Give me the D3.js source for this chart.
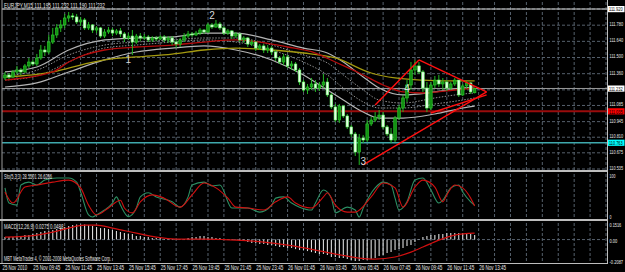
<!DOCTYPE html>
<html>
<head>
<meta charset="utf-8">
<script src="https://cdn.jsdelivr.net/npm/d3@7"></script>
<style>
html, body { margin: 0; padding: 0; background: #000; }
svg { display: block; }
text { font-family: "Liberation Sans", Arial, sans-serif; }
</style>
</head>
<body>
<div id="chart"></div>
<script>
const chartWidth = 625;
const chartHeight = 272;
const plotLeft = 2;
const plotRight = 607;

const symbolTitle = "EURJPY,M15  111.195 111.232 111.190 111.232";
const stochTitle = "Sto(5,3,3) 28.5501 26.6266";
const macdTitle = "MACD(12,26,9) 0.0275 0.0488";
const footerText = "MBT MetaTrader 4, \u00a9 2001-2008 MetaQuotes Software Corp.";

const openPrices = [
  111.323,111.349,111.331,111.375,111.392,111.375,111.427,111.461,111.444,111.496,
  111.565,111.548,111.634,111.695,111.756,111.782,111.842,111.860,111.851,111.808,
  111.825,111.756,111.782,111.738,111.756,111.686,111.721,111.738,111.712,111.730,
  111.704,111.669,111.686,111.634,111.686,111.669,111.678,111.652,111.669,111.660,
  111.678,111.652,111.669,111.634,111.617,111.652,111.686,111.704,111.695,111.712,
  111.738,111.721,111.782,111.764,111.790,111.756,111.712,111.730,111.686,111.704,
  111.652,111.669,111.617,111.634,111.582,111.600,111.565,111.582,111.548,111.496,
  111.461,111.505,111.427,111.444,111.392,111.288,111.219,111.245,111.271,111.236,
  111.262,111.288,111.176,111.072,110.959,111.080,110.994,110.899,110.838,110.682,
  110.803,110.786,110.925,110.959,110.985,111.002,110.899,110.838,110.786,110.977,
  111.063,111.150,111.262,111.392,111.427,111.375,111.236,111.063,111.262,111.305,
  111.271,111.288,111.236,111.271,111.305,111.176,111.254,111.280,111.195
];
const highPrices = [
  111.375,111.366,111.392,111.427,111.409,111.444,111.496,111.479,111.531,111.608,
  111.600,111.695,111.756,111.790,111.825,111.877,111.894,111.885,111.877,111.851,
  111.842,111.808,111.790,111.773,111.764,111.747,111.764,111.756,111.747,111.756,
  111.721,111.712,111.738,111.704,111.712,111.704,111.695,111.686,111.686,111.695,
  111.695,111.686,111.686,111.652,111.669,111.712,111.730,111.721,111.730,111.756,
  111.747,111.799,111.799,111.825,111.808,111.773,111.747,111.738,111.721,111.712,
  111.686,111.678,111.652,111.643,111.617,111.617,111.608,111.600,111.565,111.513,
  111.531,111.522,111.470,111.461,111.409,111.305,111.271,111.323,111.305,111.288,
  111.357,111.323,111.193,111.098,111.098,111.089,111.011,110.916,110.855,110.838,
  110.829,110.959,110.985,111.028,111.046,111.028,110.916,110.890,110.994,111.089,
  111.176,111.305,111.461,111.479,111.461,111.392,111.288,111.288,111.340,111.349,
  111.323,111.305,111.288,111.323,111.305,111.271,111.297,111.288,111.232
];
const lowPrices = [
  111.305,111.314,111.323,111.357,111.349,111.366,111.409,111.427,111.427,111.479,
  111.513,111.531,111.617,111.669,111.721,111.756,111.808,111.825,111.790,111.773,
  111.738,111.738,111.712,111.712,111.669,111.669,111.704,111.686,111.695,111.678,
  111.634,111.652,111.522,111.617,111.643,111.652,111.634,111.634,111.643,111.652,
  111.634,111.626,111.608,111.582,111.591,111.634,111.669,111.678,111.686,111.695,
  111.704,111.712,111.747,111.756,111.738,111.695,111.695,111.660,111.669,111.634,
  111.626,111.591,111.600,111.556,111.565,111.539,111.539,111.522,111.470,111.444,
  111.435,111.409,111.392,111.375,111.262,111.202,111.184,111.219,111.202,111.210,
  111.236,111.158,111.054,110.942,110.933,110.977,110.881,110.812,110.648,110.570,
  110.760,110.769,110.907,110.942,110.959,110.881,110.821,110.760,110.769,110.959,
  111.028,111.115,111.219,111.349,111.357,111.202,111.028,111.046,111.236,111.245,
  111.219,111.210,111.219,111.254,111.158,111.167,111.228,111.184,111.190
];
const closePrices = [
  111.349,111.331,111.375,111.392,111.375,111.427,111.461,111.444,111.496,111.565,
  111.548,111.634,111.695,111.756,111.782,111.842,111.860,111.851,111.808,111.825,
  111.756,111.782,111.738,111.756,111.686,111.721,111.738,111.712,111.730,111.704,
  111.669,111.686,111.634,111.686,111.669,111.678,111.652,111.669,111.660,111.678,
  111.652,111.669,111.634,111.617,111.652,111.686,111.704,111.695,111.712,111.738,
  111.721,111.782,111.764,111.790,111.756,111.712,111.730,111.686,111.704,111.652,
  111.669,111.617,111.634,111.582,111.600,111.565,111.582,111.548,111.496,111.461,
  111.505,111.427,111.444,111.392,111.288,111.219,111.245,111.271,111.236,111.262,
  111.288,111.176,111.072,110.959,111.080,110.994,110.899,110.838,110.682,110.803,
  110.786,110.925,110.959,110.985,111.002,110.899,110.838,110.786,110.977,111.063,
  111.150,111.262,111.392,111.427,111.375,111.236,111.063,111.262,111.305,111.271,
  111.288,111.236,111.271,111.305,111.176,111.254,111.280,111.202,111.232
];

// band lines share the same sample bars
const bandBars = [0, 8, 16, 25, 33, 42, 50, 58, 67, 75, 81, 85, 90, 94, 100, 108, 115, 118];
const bandUpper = [111.375,111.418,111.565,111.652,111.669,111.678,111.712,111.712,111.652,111.582,111.539,111.461,111.331,111.236,111.176,111.202,111.236,111.245];
const bandMidHigh = [111.340,111.390,111.522,111.608,111.634,111.652,111.669,111.669,111.608,111.522,111.453,111.349,111.219,111.132,111.106,111.150,111.184,111.193];
const bandMidLow = [111.305,111.340,111.461,111.582,111.608,111.634,111.652,111.634,111.565,111.461,111.349,111.236,111.115,111.063,111.063,111.098,111.132,111.150];
const bandLower = [111.245,111.280,111.375,111.479,111.548,111.582,111.600,111.565,111.479,111.349,111.219,111.132,111.028,110.976,110.976,111.011,111.063,111.080];

const redMaBars = [0, 12, 16, 20, 25, 33, 42, 50, 58, 71, 78, 83, 89, 95, 100, 105, 113, 118];
const redMa = [111.305,111.375,111.461,111.522,111.565,111.591,111.608,111.634,111.652,111.591,111.539,111.461,111.366,111.262,111.202,111.193,111.219,111.236];
const yellowMaBars = [0, 12, 16, 25, 33, 42, 50, 58, 67, 75, 83, 92, 98, 105, 113, 118];
const yellowMa = [111.331,111.375,111.409,111.479,111.505,111.530,111.565,111.582,111.565,111.539,111.496,111.366,111.323,111.305,111.297,111.297];

const trendLines = [
  [[93, 111.089], [104, 111.479]],
  [[104, 111.479], [121, 111.202]],
  [[90, 110.570], [121, 111.202]],
  [[107, 111.020], [121, 111.176]]
];
const waveLabels = [
  { text: "1", bar: 31, price: 111.479 },
  { text: "2", bar: 52, price: 111.868 },
  { text: "3", bar: 90, price: 110.596 },
  { text: "4", bar: 101, price: 111.236 }
];
const levelLines = [
  { price: 111.920, label: "111.920", color: "#d8d8d8", box: "#ffffff", width: 1 },
  { price: 111.035, label: "111.035", color: "#9a0c0c", box: "#ff0000", width: 2 },
  { price: 110.763, label: "110.763", color: "#3fa9ad", box: "#00ffff", width: 1.5 }
];
const bidPrice = 111.232;

// 111.920 and 111.220 sit under the level/bid boxes, so they carry no own label
const priceTicks = [111.920, 111.780, 111.640, 111.500, 111.360, 111.220, 111.085, 110.945, 110.810, 110.675, 110.535];
const labelledTicks = [111.780, 111.640, 111.500, 111.360, 111.085, 110.945, 110.810, 110.675, 110.535];

const stochBars = [0,1,3,4,6,8,10,13,16,18,19,21,22,23,25,27,28,29,31,33,34,36,38,42,44,46,47,50,52,54,57,58,61,64,67,68,70,72,74,77,78,80,82,83,86,88,89,90,93,95,97,98,99,101,103,105,107,109,110,112,114,115,117,118];
const stochMain = [71,34,29,78,85,78,90,95,95,85,61,5,0,5,17,34,49,29,1,22,49,59,49,37,24,49,78,85,76,78,22,22,22,12,29,46,49,34,24,17,34,66,46,10,24,17,0,22,71,85,78,46,17,37,90,95,66,34,41,71,78,61,37,28.5];
const signalBars = [0,2,5,8,12,16,19,21,23,26,29,30,32,34,37,40,44,47,50,53,56,58,61,65,68,71,73,77,80,81,83,86,88,92,95,98,100,103,105,108,110,111,113,115,117,118];
const stochSignal = [61,34,73,78,85,90,71,29,5,22,41,22,10,37,54,46,24,54,83,71,46,24,22,17,37,49,34,22,49,59,29,12,12,49,83,71,24,73,90,73,37,54,78,71,46,26.6];

const macdHist = [
  0.024,0.024,0.024,0.034,0.034,0.044,0.044,0.054,0.063,0.073,
  0.083,0.083,0.093,0.102,0.112,0.122,0.131,0.141,0.146,0.146,
  0.146,0.141,0.131,0.122,0.112,0.112,0.102,0.093,0.083,0.073,
  0.063,0.054,0.054,0.034,0.034,0.024,0.024,0.015,0.015,0.015,
  0.005,0.005,-0.005,-0.005,-0.005,0.005,0.015,0.024,0.024,0.034,
  0.034,0.024,0.024,0.015,0.015,0.005,0.005,-0.005,-0.005,-0.015,
  -0.015,-0.024,-0.034,-0.034,-0.044,-0.044,-0.054,-0.054,-0.063,-0.073,
  -0.073,-0.083,-0.083,-0.093,-0.102,-0.102,-0.112,-0.122,-0.131,-0.141,
  -0.141,-0.151,-0.170,-0.170,-0.180,-0.180,-0.190,-0.200,-0.209,-0.209,
  -0.200,-0.200,-0.190,-0.180,-0.161,-0.151,-0.131,-0.122,-0.102,-0.093,
  -0.083,-0.063,-0.054,-0.024,0.005,0.024,0.034,0.044,0.044,0.054,
  0.054,0.063,0.063,0.063,0.063,0.063,0.063,0.054,0.044
];
const macdSignalBars = [0,8,12,16,20,23,27,33,38,43,50,55,58,65,71,78,83,89,93,98,102,105,109,113,118];
const macdSignal = [0.024,0.044,0.073,0.112,0.141,0.141,0.112,0.063,0.024,0.005,0.005,0.0,-0.005,-0.024,-0.054,-0.102,-0.141,-0.180,-0.190,-0.170,-0.122,-0.073,-0.005,0.044,0.063];

const stochTicks = [{ v: 100, label: "100" }, { v: 0, label: "0" }];
const macdTicks = [{ v: 0.1516, label: "0.1516" }, { v: 0, label: "0.00" }, { v: -0.2087, label: "-0.2087" }];

const timeLabels = [
  "25 Nov 2010", "25 Nov 09:45", "25 Nov 11:45", "25 Nov 13:45", "25 Nov 15:45",
  "25 Nov 17:45", "25 Nov 19:45", "25 Nov 21:45", "25 Nov 23:45", "26 Nov 01:45",
  "26 Nov 03:45", "26 Nov 05:45", "26 Nov 07:45", "26 Nov 09:45", "26 Nov 11:45", "26 Nov 13:45"
];
const timeLabelBars = [-0.75, 7, 15, 23, 31, 39, 47, 55, 63, 71, 79, 87, 95, 103, 111, 119];

const xScale = d3.scaleLinear().domain([0, 151]).range([5, 606]);
const yPrice = d3.scaleLinear().domain([110.535, 111.92]).range([169, 9]);
const yStoch = d3.scaleLinear().domain([0, 100]).range([217, 176]);
const yMacd = d3.scaleLinear().domain([-0.2087, 0.1516]).range([261, 224]);

const panes = [
  { top: 0, bottom: 171 },
  { top: 172, bottom: 220 },
  { top: 221, bottom: 263 }
];

const svg = d3
  .select("#chart")
  .append("svg")
  .attr("width", chartWidth)
  .attr("height", chartHeight)
  .style("background", "#000");

// grid
const gridBars = d3.range(3, 152, 4);
panes.forEach(p => {
  svg
    .append("g")
    .selectAll("line")
    .data(gridBars)
    .enter()
    .append("line")
    .attr("x1", d => xScale(d))
    .attr("x2", d => xScale(d))
    .attr("y1", p.top + 2)
    .attr("y2", p.bottom - 1)
    .attr("stroke", "#56616d")
    .attr("stroke-dasharray", "3,2");
});
svg
  .append("g")
  .selectAll("line")
  .data(priceTicks)
  .enter()
  .append("line")
  .attr("x1", plotLeft)
  .attr("x2", plotRight)
  .attr("y1", d => yPrice(d))
  .attr("y2", d => yPrice(d))
  .attr("stroke", "#56616d")
  .attr("stroke-dasharray", "3,2");
svg
  .append("line")
  .attr("x1", plotLeft)
  .attr("x2", plotRight)
  .attr("y1", yMacd(0))
  .attr("y2", yMacd(0))
  .attr("stroke", "#56616d")
  .attr("stroke-dasharray", "3,2");

// level lines
svg
  .append("g")
  .selectAll("line")
  .data(levelLines)
  .enter()
  .append("line")
  .attr("x1", plotLeft)
  .attr("x2", plotRight)
  .attr("y1", d => yPrice(d.price))
  .attr("y2", d => yPrice(d.price))
  .attr("stroke", d => d.color)
  .attr("stroke-width", d => d.width);
svg
  .append("line")
  .attr("x1", plotLeft)
  .attr("x2", plotRight)
  .attr("y1", yPrice(bidPrice))
  .attr("y2", yPrice(bidPrice))
  .attr("stroke", "#9a9a9a");

// moving averages / bands
const priceLine = d3
  .line()
  .x(d => xScale(d[0]))
  .y(d => yPrice(d[1]))
  .curve(d3.curveMonotoneX);
const zipPoints = (bars, vals) => bars.map((b, i) => [b, vals[i]]);

[
  { v: bandMidHigh, color: "#8f8f8f", dash: "1.5,1.5", w: 1 },
  { v: bandMidLow, color: "#8f8f8f", dash: "1.5,1.5", w: 1 },
  { v: bandUpper, color: "#b4b4b4", dash: null, w: 1.2 },
  { v: bandLower, color: "#b4b4b4", dash: null, w: 1.2 }
].forEach(s => {
  svg
    .append("path")
    .attr("d", priceLine(zipPoints(bandBars, s.v)))
    .attr("fill", "none")
    .attr("stroke", s.color)
    .attr("stroke-width", s.w)
    .attr("stroke-dasharray", s.dash);
});
svg
  .append("path")
  .attr("d", priceLine(zipPoints(yellowMaBars, yellowMa)))
  .attr("fill", "none")
  .attr("stroke", "#a49a10")
  .attr("stroke-width", 1.3);
svg
  .append("path")
  .attr("d", priceLine(zipPoints(redMaBars, redMa)))
  .attr("fill", "none")
  .attr("stroke", "#b40c0c")
  .attr("stroke-width", 1.3);

// candles
const candles = openPrices.map((o, i) => ({
  i,
  o,
  h: highPrices[i],
  l: lowPrices[i],
  c: closePrices[i]
}));
const candleG = svg.append("g");
candleG
  .selectAll("line")
  .data(candles)
  .enter()
  .append("line")
  .attr("x1", d => xScale(d.i))
  .attr("x2", d => xScale(d.i))
  .attr("y1", d => yPrice(d.h))
  .attr("y2", d => yPrice(d.l))
  .attr("stroke", "#22b822");
candleG
  .selectAll("rect")
  .data(candles)
  .enter()
  .append("rect")
  .attr("x", d => xScale(d.i) - 1.3)
  .attr("width", 2.6)
  .attr("y", d => yPrice(Math.max(d.o, d.c)))
  .attr("height", d => Math.max(1, Math.abs(yPrice(d.o) - yPrice(d.c))))
  .attr("fill", d => (d.c >= d.o ? "#129212" : "#e4ffe4"))
  .attr("stroke", d => (d.c >= d.o ? "#2fd02f" : "#6cff6c"))
  .attr("stroke-width", 0.6);

// trend lines
svg
  .append("g")
  .selectAll("line")
  .data(trendLines)
  .enter()
  .append("line")
  .attr("x1", d => xScale(d[0][0]))
  .attr("y1", d => yPrice(d[0][1]))
  .attr("x2", d => xScale(d[1][0]))
  .attr("y2", d => yPrice(d[1][1]))
  .attr("stroke", "#ff1010")
  .attr("stroke-width", 1.4);

svg
  .append("g")
  .selectAll("text")
  .data(waveLabels)
  .enter()
  .append("text")
  .attr("x", d => xScale(d.bar))
  .attr("y", d => yPrice(d.price) + 3.5)
  .attr("text-anchor", "middle")
  .attr("font-size", 10)
  .attr("fill", "#d8d8d8")
  .text(d => d.text);

// stochastic
const stochLine = d3
  .line()
  .x(d => xScale(d[0]))
  .y(d => yStoch(d[1]))
  .curve(d3.curveMonotoneX);
svg
  .append("path")
  .attr("d", stochLine(zipPoints(stochBars, stochMain)))
  .attr("fill", "none")
  .attr("stroke", "#2c8f63")
  .attr("stroke-width", 1.1);
svg
  .append("path")
  .attr("d", stochLine(zipPoints(signalBars, stochSignal)))
  .attr("fill", "none")
  .attr("stroke", "#d01010")
  .attr("stroke-width", 1.1);

// macd
svg
  .append("g")
  .selectAll("line")
  .data(macdHist)
  .enter()
  .append("line")
  .attr("x1", (d, i) => xScale(i))
  .attr("x2", (d, i) => xScale(i))
  .attr("y1", yMacd(0))
  .attr("y2", d => yMacd(d))
  .attr("stroke", "#dcdcdc")
  .attr("stroke-width", 1.1);
svg
  .append("path")
  .attr(
    "d",
    d3
      .line()
      .x(d => xScale(d[0]))
      .y(d => yMacd(d[1]))
      .curve(d3.curveMonotoneX)(zipPoints(macdSignalBars, macdSignal))
  )
  .attr("fill", "none")
  .attr("stroke", "#d01010")
  .attr("stroke-width", 1.2);

// frame
const frameColor = "#bdbdbd";
svg.append("line").attr("x1", plotRight + 0.5).attr("x2", plotRight + 0.5).attr("y1", 0).attr("y2", 264).attr("stroke", frameColor);
svg.append("line").attr("x1", plotLeft).attr("x2", plotLeft).attr("y1", 0).attr("y2", 264).attr("stroke", "#9a9a9a");
[171, 220].forEach(y => {
  svg.append("line").attr("x1", 0).attr("x2", plotRight).attr("y1", y).attr("y2", y).attr("stroke", frameColor).attr("stroke-width", 2);
});
svg.append("line").attr("x1", 0).attr("x2", plotRight).attr("y1", 263.5).attr("y2", 263.5).attr("stroke", frameColor);

// small MT4-style text, squeezed horizontally to the width seen in the screenshot
const smallText = (x, y, str, perChar, color, size) => {
  const t = svg
    .append("text")
    .attr("font-size", size || 7)
    .attr("fill", color || "#e8e8e8")
    .text(str);
  const natural = t.node().getComputedTextLength() || 1;
  const sx = (str.length * perChar) / natural;
  t.attr("transform", `translate(${x},${y}) scale(${sx},1)`);
  return t;
};

smallText(4, 7.5, symbolTitle, 2.35);
smallText(4, 179, stochTitle, 1.85);
smallText(4, 228.5, macdTitle, 2.2);
smallText(4, 260.5, footerText, 1.95, "#e8e8e8", 6.5);

// price axis
labelledTicks.forEach(p => smallText(609.5, yPrice(p) + 0.9, p.toFixed(3), 1.95, "#e8e8e8", 6));
levelLines.forEach(d => {
  svg
    .append("rect")
    .attr("x", 608)
    .attr("y", yPrice(d.price) - 3)
    .attr("width", 16.5)
    .attr("height", 6.2)
    .attr("fill", d.box);
  smallText(609, yPrice(d.price) + 2.4, d.label, 1.95, "#000", 6);
});
svg.append("rect").attr("x", 608).attr("y", yPrice(bidPrice) - 3).attr("width", 16.5).attr("height", 6.2).attr("fill", "#ffffff");
smallText(609, yPrice(bidPrice) + 2.4, bidPrice.toFixed(3), 1.95, "#000", 6);

stochTicks.forEach(t => smallText(609.5, yStoch(t.v) + 2.2, t.label, 1.95, "#e8e8e8", 6));
macdTicks.forEach(t => smallText(609.5, yMacd(t.v) + 3.2, t.label, 1.95, "#e8e8e8", 6));

// time axis
timeLabels.forEach((t, k) => smallText(xScale(timeLabelBars[k]) + 0.5, 269.5, t, 2.25, "#e8e8e8", 6.5));
</script>
</body>
</html>
